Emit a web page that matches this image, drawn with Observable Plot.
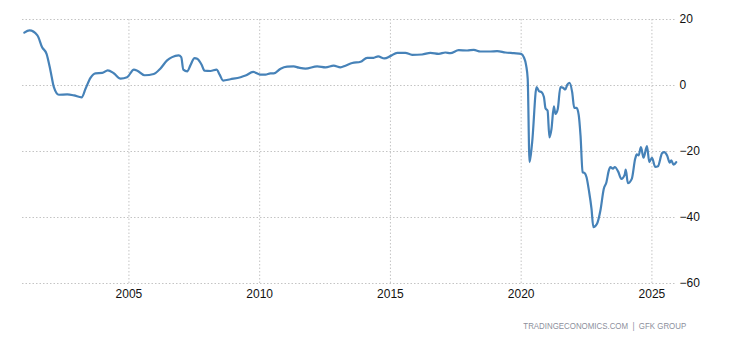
<!DOCTYPE html>
<html>
<head>
<meta charset="utf-8">
<script src="https://cdn.jsdelivr.net/npm/d3@7"></script>
<script src="https://cdn.jsdelivr.net/npm/@observablehq/plot@0.6"></script>
<style>
  html, body { margin: 0; padding: 0; background: #fff; }
  #wrap { position: relative; width: 730px; height: 340px; overflow: hidden; }
  #caption {
    position: absolute; top: 320px; right: 44px;
    font-family: "Liberation Sans", Arial, sans-serif; font-size: 9.5px;
    color: #8c8f9c; white-space: nowrap;
    transform: scaleX(0.83); transform-origin: right center;
  }
</style>
</head>
<body>
<div id="wrap"><div id="chart"></div><div id="caption">TRADINGECONOMICS.COM&nbsp; |&nbsp; GFK GROUP</div></div>
<script>
const years = [
  2001.00, 2001.20, 2001.50, 2001.68, 2001.85, 2002.00, 2002.13, 2002.32, 2002.64, 2002.90,
  2003.19, 2003.34, 2003.53, 2003.72, 2003.98, 2004.19, 2004.42, 2004.68, 2004.93, 2005.19,
  2005.32, 2005.60, 2005.95, 2006.20, 2006.46, 2006.65, 2006.90, 2007.00, 2007.08, 2007.23,
  2007.35, 2007.51, 2007.61, 2007.78, 2007.89, 2008.12, 2008.35, 2008.47, 2008.60, 2008.88,
  2009.27, 2009.46, 2009.75, 2010.03, 2010.22, 2010.41, 2010.54, 2010.80, 2011.05, 2011.30,
  2011.50, 2011.75, 2012.20, 2012.52, 2012.83, 2013.09, 2013.28, 2013.54, 2013.86, 2014.11,
  2014.36, 2014.53, 2014.77, 2015.00, 2015.26, 2015.57, 2015.83, 2016.21, 2016.53, 2016.85,
  2017.10, 2017.29, 2017.61, 2017.93, 2018.19, 2018.44, 2018.83, 2019.08, 2019.40, 2019.72,
  2020.00, 2020.10, 2020.19, 2020.25, 2020.32, 2020.42, 2020.59, 2020.68, 2020.78, 2020.87,
  2020.93, 2021.01, 2021.08, 2021.16, 2021.25, 2021.31, 2021.40, 2021.50, 2021.60, 2021.69,
  2021.76, 2021.85, 2021.95, 2022.03, 2022.12, 2022.20, 2022.27, 2022.35, 2022.42, 2022.50,
  2022.59, 2022.69, 2022.76, 2022.90, 2023.03, 2023.16, 2023.26, 2023.35, 2023.41, 2023.51,
  2023.58, 2023.71, 2023.83, 2023.96, 2024.00, 2024.08, 2024.23, 2024.36, 2024.42, 2024.49,
  2024.58, 2024.68, 2024.81, 2024.90, 2025.00, 2025.13, 2025.23, 2025.39, 2025.47, 2025.58,
  2025.68, 2025.74, 2025.83, 2025.93
];
const values = [
  16.0, 16.7, 15.2, 11.6, 9.6, 4.5, -0.5, -2.8, -2.7, -3.0,
  -3.6, -1.0, 2.3, 3.7, 3.8, 4.6, 3.7, 2.1, 2.5, 4.8,
  4.5, 3.1, 3.5, 5.1, 7.6, 8.6, 9.1, 8.6, 4.8, 4.3,
  6.1, 8.3, 8.1, 6.3, 4.5, 4.4, 4.8, 3.3, 1.5, 1.9,
  2.5, 3.0, 4.1, 3.3, 3.3, 3.7, 3.7, 5.1, 5.7, 5.8,
  5.4, 5.1, 5.8, 5.5, 6.0, 5.5, 6.0, 6.8, 7.2, 8.4,
  8.4, 8.8, 8.2, 8.9, 9.9, 9.9, 9.3, 9.4, 9.9, 9.6,
  10.0, 9.8, 10.7, 10.6, 10.8, 10.3, 10.3, 10.4, 10.0, 9.8,
  9.6, 8.6, 6.1, 2.0, -23.2, -17.2, -0.5, -1.7, -2.0, -3.5,
  -6.9, -7.6, -15.7, -13.1, -6.3, -8.6, -7.1, -0.5, -0.7, -1.2,
  0.2, 0.8, -2.0, -6.8, -6.8, -8.9, -15.2, -26.3, -26.5, -27.8,
  -31.8, -37.4, -42.9, -41.9, -37.9, -31.3, -29.3, -25.8, -24.7, -25.2,
  -24.7, -26.1, -28.3, -27.0, -25.5, -29.6, -28.3, -22.2, -20.9, -21.2,
  -18.7, -21.9, -18.4, -23.2, -21.9, -24.7, -24.5, -20.5, -20.2, -21.2,
  -23.4, -22.7, -24.0, -23.2
];
const xTicks = [2005, 2010, 2015, 2020, 2025];
const yTicks = [-60, -40, -20, 0, 20];

const data = years.map((y, i) => ({year: y, value: values[i]}));

const chart = Plot.plot({
  width: 730,
  height: 310,
  marginLeft: 22,
  marginRight: 54,
  marginTop: 19,
  marginBottom: 27,
  style: {fontFamily: "'Liberation Sans', Arial, sans-serif", fontSize: "12px", color: "#111", background: "#fff"},
  x: {domain: [2000.93, 2025.94]},
  y: {domain: [-60, 20]},
  marks: [
    Plot.gridY(yTicks, {stroke: "#c4c4c4", strokeOpacity: 1, strokeDasharray: "1.5,2"}),
    Plot.gridX(xTicks, {stroke: "#c4c4c4", strokeOpacity: 1, strokeDasharray: "1.5,2"}),
    Plot.axisX(xTicks, {tickSize: 0, tickPadding: 6, tickFormat: "d", label: null, fill: "#111"}),
    Plot.axisY(yTicks, {anchor: "right", tickSize: 0, tickPadding: 3, label: null, fill: "#111"}),
    Plot.line(data, {x: "year", y: "value", stroke: "#4682b8", strokeWidth: 2.2, curve: "monotone-x"})
  ]
});
document.getElementById("chart").appendChild(chart);
</script>
</body>
</html>
